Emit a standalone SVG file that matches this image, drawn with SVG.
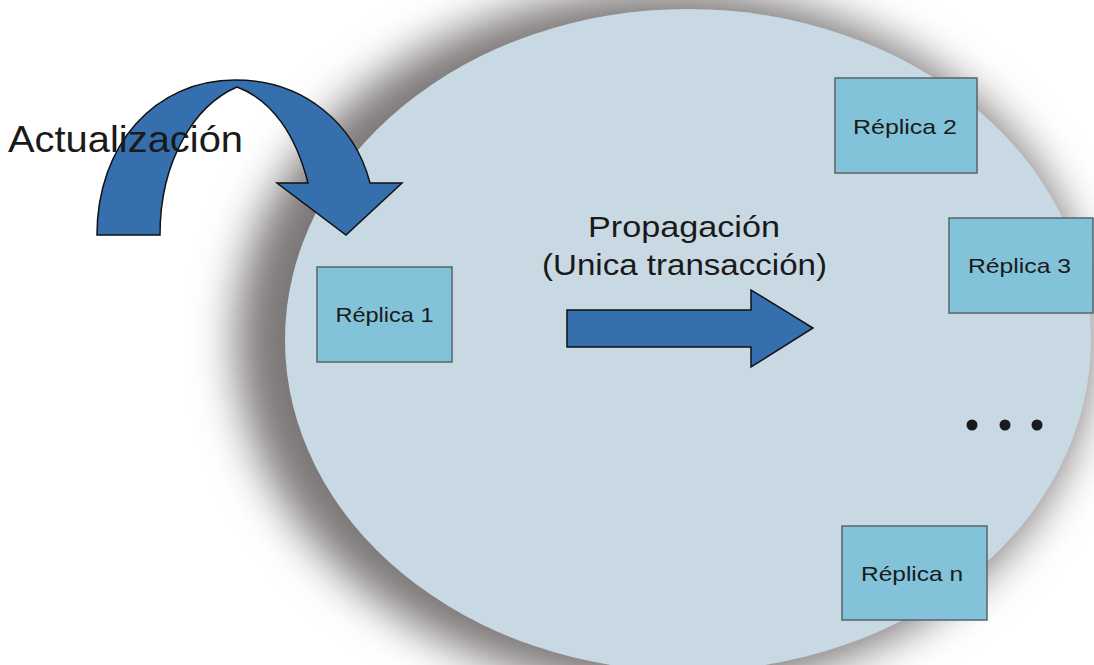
<svg xmlns="http://www.w3.org/2000/svg" width="1094" height="665" viewBox="0 0 1094 665">
  <defs>
    <filter id="soft" x="-20%" y="-20%" width="140%" height="140%">
      <feGaussianBlur stdDeviation="22"/>
    </filter>
    <style>
      .lbl { font-family: "Liberation Sans", Arial, sans-serif; fill: #1a1a1a; }
      .box rect { fill: #82c3d9; stroke: #58636a; stroke-width: 1.5; }
      .box text { font-size: 21px; text-anchor: middle; }
      .blue { fill: #356fae; stroke: #111; stroke-width: 1.5; stroke-linejoin: miter; }
    </style>
  </defs>
  <rect width="1094" height="665" fill="#ffffff"/>

  <!-- replica group: soft shadow plus the pale oval -->
  <g id="group">
    <ellipse cx="664" cy="340" rx="428" ry="350" fill="#7d7878" filter="url(#soft)"/>
    <ellipse cx="688" cy="340" rx="403" ry="331" fill="#c8d9e3"/>
  </g>

  <g id="connectors">
    <!-- update arrow curving into the group -->
    <path class="blue" d="M97,235 C97,145 155,80 235,80 C305,80 355,125 370,183 L402,183 L346,235 L277,183 L308,183 C296,135 272,100 237,87 C195,105 160,160 160,235 Z"/>
    <!-- propagation arrow -->
    <path class="blue" d="M567,310 L751,310 L751,290 L813,328 L751,367 L751,347 L567,347 Z"/>
  </g>

  <g id="labels">
    <text class="lbl" x="8" y="152" font-size="36" textLength="235" lengthAdjust="spacingAndGlyphs">Actualización</text>
    <text class="lbl" x="588" y="237" font-size="29" textLength="192" lengthAdjust="spacingAndGlyphs">Propagación</text>
    <text class="lbl" x="542" y="275" font-size="29" textLength="285" lengthAdjust="spacingAndGlyphs">(Unica transacción)</text>
  </g>

  <g id="replica1" class="box">
    <rect x="317" y="267" width="135" height="95"/>
    <text class="lbl" x="384.5" y="322" textLength="98" lengthAdjust="spacingAndGlyphs">Réplica 1</text>
  </g>
  <g id="replica2" class="box">
    <rect x="835" y="78" width="142" height="95"/>
    <text class="lbl" x="905" y="134" textLength="104" lengthAdjust="spacingAndGlyphs">Réplica 2</text>
  </g>
  <g id="replica3" class="box">
    <rect x="949" y="218" width="144" height="95"/>
    <text class="lbl" x="1019.5" y="273" textLength="103" lengthAdjust="spacingAndGlyphs">Réplica 3</text>
  </g>
  <g id="replican" class="box">
    <rect x="842" y="526" width="145" height="94"/>
    <text class="lbl" x="912" y="581" textLength="102" lengthAdjust="spacingAndGlyphs">Réplica n</text>
  </g>

  <g id="ellipsis" fill="#1a1a1a">
    <circle cx="972" cy="425" r="5.5"/>
    <circle cx="1005" cy="425" r="5.5"/>
    <circle cx="1037" cy="425" r="5.5"/>
  </g>
</svg>
